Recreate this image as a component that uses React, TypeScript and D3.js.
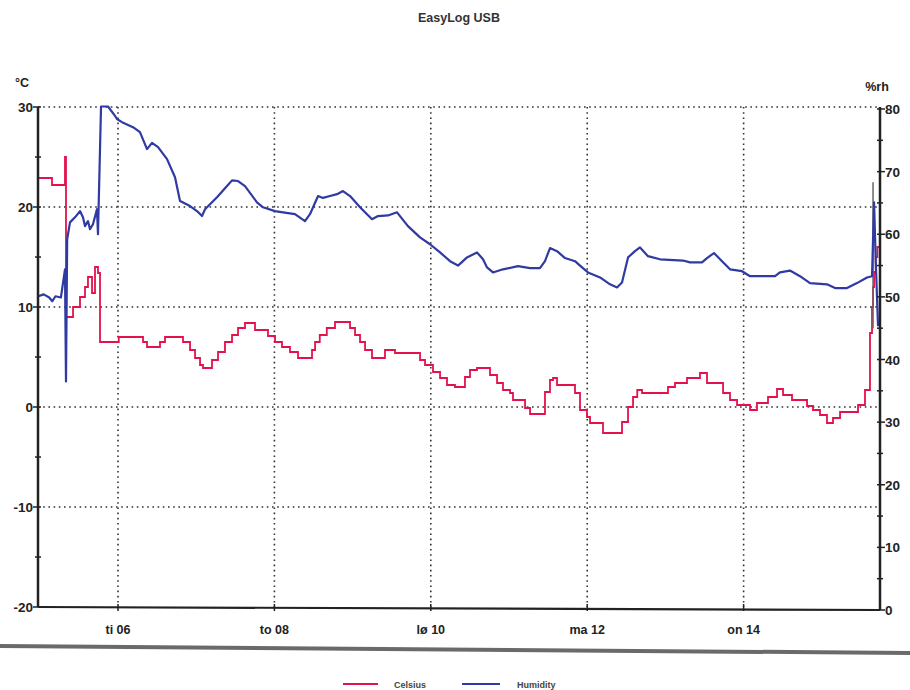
import React from "react";
import * as d3 from "d3";

// time = day of month (6 = Tue 06 00:00)
const tempTime = [4.98, 5.156, 5.322, 5.335, 5.425, 5.514, 5.578, 5.616, 5.668, 5.706, 5.744, 5.77, 6.01, 6.32, 6.371, 6.537, 6.601, 6.831, 6.921, 6.985, 7.049, 7.087, 7.202, 7.279, 7.368, 7.458, 7.535, 7.624, 7.752, 7.918, 8.008, 8.097, 8.199, 8.302, 8.366, 8.481, 8.52, 8.58, 8.67, 8.775, 8.967, 9.031, 9.095, 9.159, 9.248, 9.312, 9.414, 9.542, 9.862, 9.926, 10.028, 10.118, 10.207, 10.309, 10.373, 10.437, 10.501, 10.591, 10.757, 10.847, 10.923, 11.013, 11.051, 11.205, 11.269, 11.307, 11.46, 11.524, 11.563, 11.614, 11.844, 11.908, 11.997, 12.036, 12.202, 12.33, 12.445, 12.522, 12.586, 12.64, 12.701, 13.033, 13.123, 13.276, 13.442, 13.532, 13.737, 13.826, 13.916, 14.082, 14.171, 14.312, 14.427, 14.504, 14.619, 14.811, 14.887, 14.977, 15.066, 15.143, 15.233, 15.463, 15.552, 15.616, 15.642, 15.655, 15.668, 15.69, 15.71, 15.73];
const tempValue = [22.9, 22.2, 25.0, 9.0, 10.0, 11.0, 12.0, 13.0, 11.4, 14.0, 13.4, 6.5, 7.0, 6.5, 6.0, 6.5, 7.0, 6.5, 5.7, 4.9, 4.2, 3.9, 4.7, 5.5, 6.5, 7.2, 7.9, 8.4, 7.7, 7.1, 6.5, 6.0, 5.5, 4.9, 4.9, 5.7, 6.5, 7.2, 7.9, 8.5, 7.9, 7.2, 6.5, 5.7, 4.9, 4.9, 5.7, 5.4, 4.7, 4.2, 3.5, 2.9, 2.2, 2.0, 2.0, 3.0, 3.7, 3.9, 3.2, 2.4, 1.7, 1.4, 0.7, -0.1, -0.7, -0.7, 1.5, 2.7, 2.9, 2.2, 1.4, -0.3, -1.0, -1.6, -2.6, -2.6, -1.5, 0.0, 1.0, 1.7, 1.4, 2.0, 2.4, 2.9, 3.4, 2.4, 1.4, 0.7, 0.2, -0.3, 0.4, 1.0, 1.8, 1.2, 0.7, 0.1, -0.3, -0.8, -1.6, -1.1, -0.5, 0.2, 1.7, 7.4, 10.0, 12.0, 13.5, 15.0, 16.0];

const humTime = [4.98, 5.05, 5.12, 5.16, 5.2, 5.27, 5.322, 5.335, 5.35, 5.386, 5.45, 5.514, 5.552, 5.578, 5.616, 5.642, 5.68, 5.731, 5.744, 5.783, 5.872, 5.962, 5.987, 6.051, 6.192, 6.281, 6.371, 6.435, 6.512, 6.627, 6.729, 6.793, 6.921, 7.01, 7.074, 7.113, 7.266, 7.394, 7.458, 7.535, 7.624, 7.777, 7.854, 8.008, 8.11, 8.263, 8.391, 8.455, 8.558, 8.621, 8.711, 8.801, 8.877, 8.967, 9.095, 9.248, 9.325, 9.453, 9.568, 9.708, 9.862, 9.99, 10.118, 10.246, 10.348, 10.463, 10.591, 10.668, 10.719, 10.795, 10.923, 11.115, 11.269, 11.396, 11.46, 11.524, 11.614, 11.716, 11.844, 11.908, 12.01, 12.164, 12.292, 12.381, 12.445, 12.522, 12.611, 12.675, 12.777, 12.931, 13.225, 13.315, 13.468, 13.532, 13.621, 13.724, 13.826, 13.98, 14.082, 14.21, 14.402, 14.465, 14.593, 14.721, 14.849, 15.066, 15.169, 15.322, 15.45, 15.578, 15.642, 15.668, 15.69, 15.719];
const humValue = [50.1, 50.4, 49.9, 49.3, 50.1, 49.9, 54.4, 36.5, 59.2, 61.9, 62.7, 63.7, 62.7, 61.3, 62.1, 60.8, 61.6, 64.0, 60.0, 80.4, 80.4, 78.9, 78.4, 77.9, 77.1, 76.3, 73.6, 74.6, 73.9, 72.0, 69.1, 65.3, 64.5, 63.7, 62.9, 64.0, 65.9, 67.7, 68.6, 68.5, 67.7, 65.1, 64.3, 63.7, 63.5, 63.2, 62.1, 63.2, 66.1, 65.8, 66.1, 66.4, 66.9, 66.1, 64.3, 62.4, 62.9, 63.0, 63.5, 61.3, 59.5, 58.4, 57.1, 55.7, 55.0, 56.3, 57.1, 56.0, 54.7, 53.9, 54.4, 54.9, 54.6, 54.6, 55.7, 57.8, 57.3, 56.2, 55.7, 55.0, 53.9, 53.1, 52.0, 51.5, 52.3, 56.3, 57.3, 57.9, 56.5, 56.0, 55.8, 55.5, 55.5, 56.2, 57.0, 55.7, 54.4, 54.1, 53.3, 53.3, 53.3, 53.9, 54.2, 53.3, 52.2, 52.0, 51.4, 51.4, 52.2, 53.1, 53.3, 65.1, 55.5, 45.3];

// thin grey marker at the end of the record (humidity range)
const markerTime = [15.655];
const markerRange = [[45.0, 68.3]];

const tempTicks = [-20, -10, 0, 10, 20, 30];
const tempMinor = [-15, -5, 5, 15, 25];
const tempGrid = [-10, 0, 10, 20, 30];
const humTicks = [0, 10, 20, 30, 40, 50, 60, 70, 80];
const humMinor = [5, 15, 25, 35, 45, 55, 65, 75];
const dayTicks = [6, 8, 10, 12, 14];
const dayLabels = ["ti 06", "to 08", "lø 10", "ma 12", "on 14"];

const seriesNames = ["Celsius", "Humidity"];
const seriesColors = ["#e3124d", "#2f3aa2"];

const FONT = "'Liberation Sans', Arial, sans-serif";

export default function App() {
  const W = 910, H = 690;
  const x = d3.scaleLinear().domain([4.977, 15.744]).range([38, 880]);
  const yL = d3.scaleLinear().domain([-20, 30]).range([607, 107]);
  const yR = d3.scaleLinear().domain([0, 80]).range([610, 109]);

  const tempData = tempTime.map((t, i) => [t, tempValue[i]] as [number, number]);
  const humData = humTime.map((t, i) => [t, humValue[i]] as [number, number]);

  const tempLine = d3.line<[number, number]>().x(d => x(d[0])).y(d => yL(d[1])).curve(d3.curveStepAfter);
  const humLine = d3.line<[number, number]>().x(d => x(d[0])).y(d => yR(d[1]));

  const x0 = x.range()[0], x1 = x.range()[1];
  const yTop = yL(30), yBot = yL(-20);

  return (
    <svg width={W} height={H} style={{ position: "absolute", left: 0, top: 0, background: "#fff" }} fontFamily={FONT}>
      <rect x={0} y={0} width={W} height={H} fill="#fff" />
      <text x={459} y={22} textAnchor="middle" fontSize={12.5} fontWeight="bold" fill="#333">EasyLog USB</text>

      {/* gridlines */}
      {tempGrid.map(v => (
        <line key={"hg" + v} x1={x0} x2={x1} y1={yL(v)} y2={yL(v)} stroke="#333" strokeWidth={1.6} strokeDasharray="1.6 3.6" />
      ))}
      {dayTicks.map(d => (
        <line key={"vg" + d} x1={x(d)} x2={x(d)} y1={yTop} y2={yBot} stroke="#333" strokeWidth={1.6} strokeDasharray="1.6 3.6" />
      ))}

      {/* series */}
      <path d={tempLine(tempData) || ""} fill="none" stroke={seriesColors[0]} strokeWidth={1.8} />
      {markerTime.map((t, i) => (
        <line key={"mk" + i} x1={x(t)} x2={x(t)} y1={yR(markerRange[i][1])} y2={yR(markerRange[i][0])} stroke="#666" strokeWidth={1.5} />
      ))}
      <path d={humLine(humData) || ""} fill="none" stroke={seriesColors[1]} strokeWidth={2.2} strokeLinejoin="round" />

      {/* axes */}
      <line x1={x0} x2={x0} y1={yTop} y2={yBot} stroke="#222" strokeWidth={2.5} />
      <line x1={x1} x2={x1} y1={yR(80) - 2} y2={yR(0)} stroke="#222" strokeWidth={2.5} />
      <line x1={x0} x2={x1} y1={yBot} y2={yR(0)} stroke="#222" strokeWidth={2.2} />

      {tempTicks.map(v => (
        <g key={"lt" + v}>
          <line x1={x0 - 5} x2={x0 + 3} y1={yL(v)} y2={yL(v)} stroke="#222" strokeWidth={1.5} />
          <text x={x0 - 5} y={yL(v) + 5} textAnchor="end" fontSize={13.5} fontWeight="bold" fill="#222">{v}</text>
        </g>
      ))}
      {tempMinor.map(v => (
        <line key={"lm" + v} x1={x0 - 3} x2={x0 + 3} y1={yL(v)} y2={yL(v)} stroke="#222" strokeWidth={1.5} />
      ))}
      {humTicks.map(v => (
        <g key={"rt" + v}>
          <line x1={x1 - 3} x2={x1 + 5} y1={yR(v)} y2={yR(v)} stroke="#222" strokeWidth={1.5} />
          <text x={x1 + 5} y={yR(v) + 5} textAnchor="start" fontSize={13.5} fontWeight="bold" fill="#222">{v}</text>
        </g>
      ))}
      {humMinor.map(v => (
        <line key={"rm" + v} x1={x1 - 3} x2={x1 + 3} y1={yR(v)} y2={yR(v)} stroke="#222" strokeWidth={1.5} />
      ))}
      {dayTicks.map((d, i) => (
        <g key={"bt" + d}>
          <line x1={x(d)} x2={x(d)} y1={yBot - 3} y2={yBot + 4} stroke="#222" strokeWidth={1.5} />
          <text x={x(d)} y={yBot + 27} textAnchor="middle" fontSize={12.5} fontWeight="bold" fill="#222">{dayLabels[i]}</text>
        </g>
      ))}

      <text x={22} y={87} textAnchor="middle" fontSize={12.5} fontWeight="bold" fill="#222">°C</text>
      <text x={877} y={91} textAnchor="middle" fontSize={12.5} fontWeight="bold" fill="#222">%rh</text>

      {/* scanner edge bar */}
      <line x1={0} x2={W} y1={646} y2={653} stroke="#6a6a6a" strokeWidth={4} />

      {/* legend */}
      <line x1={343} x2={378} y1={684} y2={684} stroke={seriesColors[0]} strokeWidth={2} />
      <text x={394} y={688} fontSize={9} fontWeight="bold" fill="#444">{seriesNames[0]}</text>
      <line x1={462} x2={500} y1={684} y2={684} stroke={seriesColors[1]} strokeWidth={2} />
      <text x={517} y={688} fontSize={9} fontWeight="bold" fill="#444">{seriesNames[1]}</text>
    </svg>
  );
}
